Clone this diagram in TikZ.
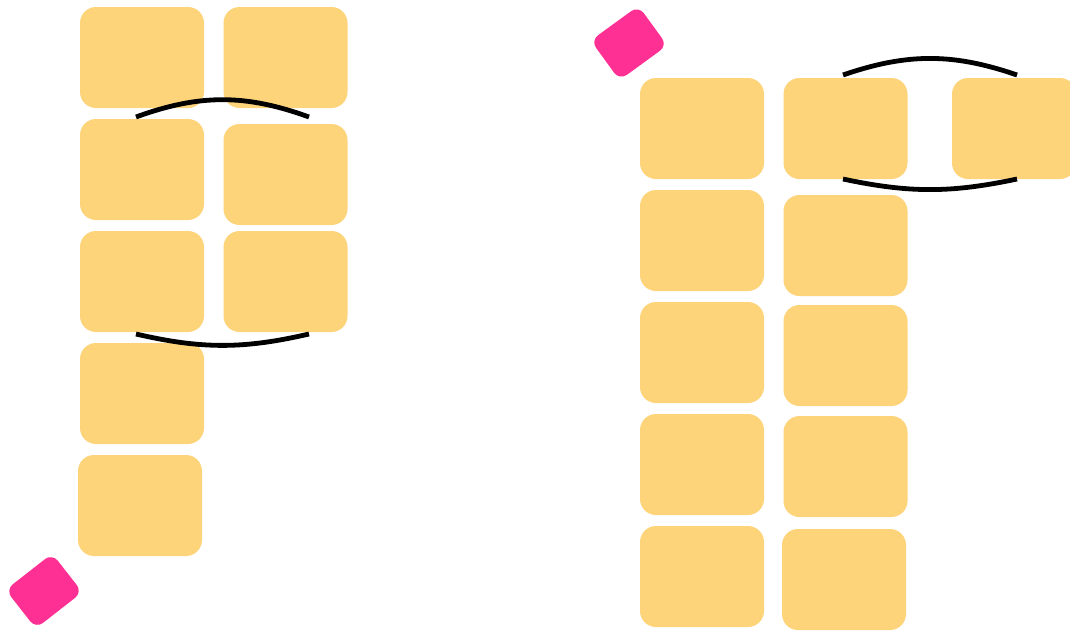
\documentclass[tikz,border=0pt]{standalone}
\usepackage{tikz}
\usepackage{xcolor}
\usetikzlibrary{positioning}

\definecolor{tileyellow}{HTML}{FED47B}
\definecolor{markpink}{HTML}{FF3093}

\begin{document}
\begin{tikzpicture}[
  x=1pt, y=-1pt,
  tile/.style={fill=tileyellow, rounded corners=16pt, minimum width=124pt, minimum height=101pt, inner sep=0pt},
  marker/.style={fill=markpink, rounded corners=9pt, minimum width=59pt, minimum height=49pt, inner sep=0pt},
  brace/.style={line width=4.8pt, black}
]
  \clip (0,0) rectangle (1070,630);
  \fill[white] (0,0) rectangle (1070,630);

  % left stack
  \node[tile] (l11) at (142,57.5) {};
  \node[tile] (l12) at (285.5,57.5) {};
  \node[tile] (l21) at (142,169.5) {};
  \node[tile] (l22) at (285.5,174.5) {};
  \node[tile] (l31) at (142,281.5) {};
  \node[tile] (l32) at (285.5,281.5) {};
  \node[tile] (l41) at (142,393.5) {};
  \node[tile] (l51) at (140,505.5) {};
  \node[marker, rotate=38] (lmark) at (44,591) {};

  % right stack
  \node[tile] (r11) at (702,128.5) {};
  \node[tile] (r12) at (845.5,128.5) {};
  \node[tile] (r13) at (1014,128.5) {};
  \node[tile] (r21) at (702,240.5) {};
  \node[tile] (r22) at (845.5,245.5) {};
  \node[tile] (r31) at (702,352.5) {};
  \node[tile] (r32) at (845.5,355.5) {};
  \node[tile] (r41) at (702,464.5) {};
  \node[tile] (r42) at (845.5,466.5) {};
  \node[tile] (r51) at (702,576.5) {};
  \node[tile] (r52) at (844,579.5) {};
  \node[marker, rotate=36] (rmark) at (629,43) {};

  % brackets
  \coordinate (lta) at (136,117);
  \coordinate (ltb) at (309,117);
  \coordinate (lba) at (136,334);
  \coordinate (lbb) at (309,334);
  \coordinate (rta) at (843,75);
  \coordinate (rtb) at (1017,75);
  \coordinate (rba) at (843,179);
  \coordinate (rbb) at (1017,179);
  \draw[brace] (lta) to[bend left=20] (ltb);
  \draw[brace] (lba) to[bend right=13] (lbb);
  \draw[brace] (rta) to[bend left=19] (rtb);
  \draw[brace] (rba) to[bend right=12] (rbb);
\end{tikzpicture}
\end{document}
